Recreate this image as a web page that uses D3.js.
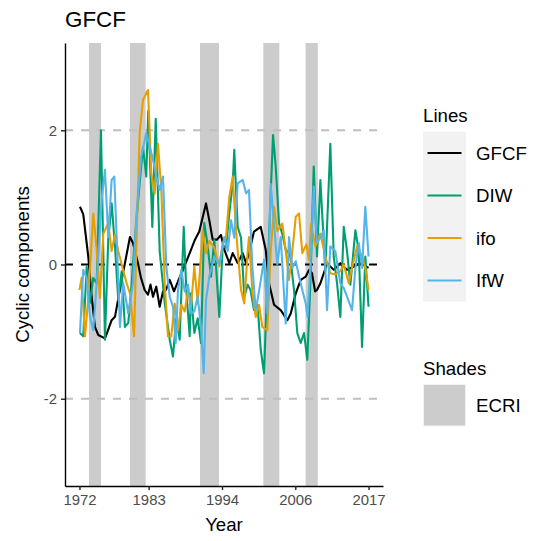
<!DOCTYPE html>
<html><head><meta charset="utf-8">
<script src="https://cdn.jsdelivr.net/npm/d3@7"></script>
<style>body{margin:0;background:#fff}svg{display:block;font-family:"Liberation Sans",Arial,Helvetica,sans-serif}</style>
</head><body><svg id="c" width="535" height="541"></svg>
<script>
const chartTitle = "GFCF";
const seriesNames = ["GFCF", "DIW", "ifo", "IfW"];
const seriesColors = ["#000000", "#009E73", "#E69F00", "#56B4E9"];

const gfcf = [[1972.08,0.86],[1972.59,0.75],[1973.37,0.12],[1973.87,-0.45],[1974.41,-0.93],[1974.93,-1.05],[1975.97,-1.1],[1976.44,-0.98],[1977.01,-0.83],[1977.53,-0.78],[1978.0,-0.53],[1978.57,-0.23],[1979.08,0.02],[1979.86,0.41],[1980.33,0.32],[1981.11,0.02],[1981.58,-0.2],[1982.15,-0.38],[1982.67,-0.45],[1983.06,-0.3],[1983.45,-0.48],[1983.96,-0.33],[1984.49,-0.63],[1985.0,-0.4],[1985.47,-0.38],[1986.05,-0.23],[1986.72,-0.4],[1987.34,-0.25],[1988.12,-0.08],[1989.16,0.17],[1989.98,0.37],[1990.65,0.49],[1991.7,0.91],[1992.21,0.66],[1992.74,0.37],[1993.41,0.37],[1994.03,0.44],[1994.55,0.22],[1995.33,0.02],[1995.86,0.17],[1996.63,0.02],[1997.41,0.17],[1997.93,0.02],[1998.39,0.17],[1999.17,0.49],[2000.22,0.56],[2000.99,0.22],[2001.51,-0.28],[2002.29,-0.6],[2003.33,-0.68],[2004.36,-0.83],[2004.89,-0.73],[2005.67,-0.43],[2006.44,-0.23],[2007.22,-0.18],[2007.74,-0.08],[2008.2,-0.13],[2008.68,-0.4],[2008.98,-0.38],[2009.5,-0.28],[2010.03,-0.13],[2010.54,0.02],[2011.58,-0.08],[2012.61,0.02],[2013.65,-0.08],[2014.7,-0.03],[2015.68,0.02],[2017.0,-0.05]];

const diw = [[1972.08,-1.02],[1972.59,-1.07],[1973.12,-0.03],[1973.63,-0.57],[1974.15,-0.2],[1974.68,-0.28],[1975.35,2.0],[1975.97,-1.12],[1976.48,0.37],[1977.01,0.91],[1977.53,0.27],[1978.04,-0.53],[1978.57,-0.1],[1979.08,-0.93],[1979.6,-0.87],[1980.13,-0.28],[1980.33,0.0],[1980.84,0.62],[1981.37,1.21],[1981.89,1.75],[1982.4,1.31],[1982.71,2.29],[1983.34,0.56],[1983.87,2.17],[1984.49,0.2],[1985.27,-0.57],[1986.05,-1.12],[1986.56,-1.37],[1987.07,-0.8],[1987.6,-1.12],[1988.23,0.56],[1988.63,-0.38],[1989.16,-1.07],[1989.36,-0.43],[1989.88,-1.02],[1990.41,-0.8],[1990.92,-1.17],[1991.43,0.62],[1991.93,0.3],[1992.48,-0.18],[1992.99,0.37],[1993.77,-0.78],[1994.3,0.27],[1994.81,0.25],[1995.33,0.77],[1995.86,1.21],[1996.1,1.71],[1996.63,0.56],[1997.15,0.4],[1997.66,-0.48],[1998.19,-0.3],[1998.63,-0.38],[1999.17,-0.68],[1999.72,-0.6],[2000.22,-1.27],[2000.73,-1.62],[2001.24,-0.28],[2001.77,1.06],[2002.13,1.93],[2002.55,1.46],[2003.06,0.62],[2003.58,0.45],[2004.11,0.22],[2004.78,0.15],[2005.4,-0.38],[2005.91,-1.02],[2006.44,-1.17],[2006.96,-1.02],[2007.47,-1.42],[2007.97,-0.2],[2008.47,1.46],[2008.98,0.12],[2009.5,1.26],[2010.27,-0.1],[2011.05,1.8],[2011.58,0.12],[2012.1,-0.28],[2012.61,-0.78],[2013.14,0.56],[2013.65,0.2],[2014.17,-0.3],[2014.95,0.51],[2015.48,0.2],[2015.99,-1.23],[2016.5,0.12],[2017.0,-0.63]];

const ifo = [[1972.0,-0.38],[1972.34,-0.2],[1972.86,-1.07],[1973.37,-0.5],[1974.15,0.76],[1974.68,0.22],[1975.19,-0.5],[1975.71,0.46],[1976.48,0.61],[1977.01,0.2],[1977.53,0.45],[1978.04,0.2],[1978.57,0.0],[1979.35,-0.28],[1979.86,-0.43],[1980.5,-1.07],[1980.84,0.2],[1981.37,1.96],[1981.89,2.45],[1982.67,2.6],[1983.18,1.36],[1983.71,1.06],[1984.22,1.8],[1984.74,1.11],[1985.27,-0.28],[1985.78,-1.07],[1986.29,-1.07],[1986.82,-0.58],[1987.34,-0.98],[1987.85,-0.6],[1988.38,-0.7],[1988.9,-0.38],[1989.36,-0.63],[1989.88,-0.03],[1990.41,-0.58],[1991.18,0.51],[1991.7,0.17],[1992.21,0.35],[1992.99,0.25],[1993.77,-0.03],[1994.3,0.32],[1994.81,0.4],[1995.33,1.01],[1995.86,1.31],[1996.37,0.51],[1997.15,-0.38],[1997.66,-0.58],[1998.19,0.2],[1998.39,0.41],[1998.91,-0.4],[1999.44,-0.78],[1999.95,-0.6],[2000.46,-0.93],[2001.24,-0.98],[2001.77,0.2],[2002.29,0.86],[2002.8,0.5],[2003.58,0.61],[2004.11,0.2],[2004.62,-0.23],[2005.14,0.2],[2005.67,0.71],[2006.18,0.76],[2006.69,0.17],[2007.32,0.3],[2007.74,0.07],[2008.05,0.61],[2008.72,0.27],[2009.5,0.46],[2010.27,0.12],[2011.05,-0.13],[2011.83,-0.15],[2012.61,-0.1],[2013.14,0.0],[2013.92,-0.28],[2014.43,-0.05],[2015.21,0.27],[2015.99,0.12],[2016.5,-0.05],[2017.0,-0.38]];

const ifw = [[1972.08,-1.02],[1972.59,-0.08],[1973.12,-0.2],[1973.63,-0.78],[1974.15,-0.98],[1974.68,-0.28],[1975.46,0.96],[1975.97,1.41],[1976.48,0.41],[1977.01,1.26],[1977.42,1.31],[1977.79,0.41],[1978.31,-0.93],[1978.82,-0.28],[1979.6,-0.73],[1980.33,-0.28],[1980.84,0.71],[1981.62,1.61],[1982.4,1.96],[1982.93,1.76],[1983.45,1.56],[1983.96,1.31],[1984.49,1.11],[1985.0,1.31],[1985.52,-0.03],[1986.05,-0.48],[1986.56,-0.63],[1986.98,-1.17],[1987.34,-0.38],[1987.85,-0.08],[1988.38,-0.4],[1988.9,-0.3],[1989.41,-0.73],[1989.88,-0.7],[1990.41,-0.48],[1990.92,-0.93],[1991.34,-1.62],[1991.7,-0.53],[1992.21,-0.18],[1992.99,0.12],[1993.77,0.0],[1994.55,0.41],[1995.08,0.2],[1995.59,0.66],[1996.1,0.4],[1996.63,1.21],[1997.41,1.26],[1997.93,1.06],[1998.39,1.11],[1998.91,-0.03],[1999.44,-0.68],[1999.95,-0.4],[2000.73,0.07],[2001.24,-0.73],[2001.77,1.2],[2002.29,0.6],[2002.8,0.0],[2003.33,0.41],[2004.11,-0.88],[2004.62,0.41],[2005.14,-0.05],[2005.67,0.05],[2006.18,-0.18],[2006.69,-0.38],[2007.22,-0.58],[2007.5,-0.78],[2007.94,-0.03],[2008.47,1.16],[2008.98,0.32],[2009.5,0.4],[2010.03,0.51],[2010.54,-0.68],[2011.05,0.27],[2011.83,0.2],[2012.61,-0.28],[2013.14,-0.35],[2013.65,-0.48],[2014.43,-0.68],[2014.95,-0.05],[2015.48,0.32],[2015.99,-0.05],[2016.5,0.86],[2017.0,0.12]];

const seriesValues = [gfcf, diw, ifo, ifw];

const recessionStarts = [1973.48, 1979.86, 1990.76, 2000.62, 2007.2];
const recessionEnds   = [1975.35, 1982.31, 1993.72, 2003.11, 2009.1];
const shadeLabel = "ECRI";

const xTickValues = [1972, 1982.77, 1994.19, 2005.6, 2017];
const xTickLabels = ["1972", "1983", "1994", "2006", "2017"];
const yTickValues = [-2, 0, 2];
const refLines = [2, -2];

const xLabel = "Year", yLabel = "Cyclic components";
const legendTitle = "Lines", shadeTitle = "Shades";

// ---- drawing ----
const svg = d3.select("#c");
const P = {l: 65, r: 383, t: 43, b: 486};
const xMin = 1972, xMax = 2017, xPad = (xMax - xMin) * 0.05;
const x = d3.scaleLinear().domain([xMin - xPad, xMax + xPad]).range([P.l, P.r]);
const y = d3.scaleLinear().domain([-3.3, 3.3]).range([P.b, P.t]);

svg.append("g").selectAll("rect").data(recessionStarts).join("rect")
  .attr("x", d => x(d)).attr("y", P.t)
  .attr("width", (d, i) => x(recessionEnds[i]) - x(d)).attr("height", P.b - P.t)
  .attr("fill", "#CCCCCC");

svg.append("g").selectAll("line").data(refLines).join("line")
  .attr("x1", P.l).attr("x2", P.r).attr("y1", d => y(d)).attr("y2", d => y(d))
  .attr("stroke", "#BEBEBE").attr("stroke-width", 2).attr("stroke-dasharray", "8,8");
svg.append("line").attr("x1", P.l).attr("x2", P.r).attr("y1", y(0)).attr("y2", y(0))
  .attr("stroke", "#000").attr("stroke-width", 2).attr("stroke-dasharray", "8,8");

const line = d3.line().x(d => x(d[0])).y(d => y(d[1]));
svg.append("g").selectAll("path").data(seriesValues).join("path")
  .attr("d", line).attr("fill", "none")
  .attr("stroke", (d, i) => seriesColors[i]).attr("stroke-width", 2.1)
  .attr("stroke-linejoin", "round");

// axes
const xAxis = svg.append("g").attr("transform", `translate(0,${P.b})`)
  .call(d3.axisBottom(x).tickValues(xTickValues).tickFormat((d, i) => xTickLabels[i]).tickSize(4).tickSizeOuter(0).tickPadding(4));
const yAxis = svg.append("g").attr("transform", `translate(${P.l},0)`)
  .call(d3.axisLeft(y).tickValues(yTickValues).tickFormat(d => String(d)).tickSize(4).tickSizeOuter(0).tickPadding(4));
[xAxis, yAxis].forEach(g => {
  g.select(".domain").attr("stroke", "#000").attr("stroke-width", 1.4);
  g.selectAll(".tick line").attr("stroke", "#222").attr("stroke-width", 1.4);
  g.selectAll(".tick text").attr("fill", "#4D4D4D").attr("font-size", 14.9)
    .attr("font-family", "Liberation Sans, Arial, sans-serif");
});

svg.append("text").attr("x", P.l).attr("y", 27).attr("font-size", 22.4).text(chartTitle);
svg.append("text").attr("x", (P.l + P.r) / 2).attr("y", 531).attr("text-anchor", "middle")
  .attr("font-size", 18.67).text(xLabel);
svg.append("text").attr("transform", `translate(28.5,${(P.t + P.b) / 2}) rotate(-90)`)
  .attr("text-anchor", "middle").attr("font-size", 18.67).text(yLabel);

// legend
const L = {x: 423, keyW: 43, keyH: 42.5, top: 131.7};
svg.append("text").attr("x", L.x).attr("y", 121.5).attr("font-size", 18.67).text(legendTitle);
svg.append("rect").attr("x", L.x).attr("y", L.top).attr("width", L.keyW)
  .attr("height", L.keyH * seriesNames.length).attr("fill", "#F2F2F2");
seriesNames.forEach((n, i) => {
  const cy = L.top + L.keyH * (i + 0.5);
  svg.append("line").attr("x1", L.x + 4.5).attr("x2", L.x + 38.5).attr("y1", cy).attr("y2", cy)
    .attr("stroke", seriesColors[i]).attr("stroke-width", 2.1);
  svg.append("text").attr("x", 476).attr("y", cy + 6.7).attr("font-size", 18.67).text(n);
});
svg.append("text").attr("x", L.x).attr("y", 375).attr("font-size", 18.67).text(shadeTitle);
svg.append("rect").attr("x", L.x).attr("y", 384).attr("width", L.keyW).attr("height", L.keyH).attr("fill", "#F2F2F2");
svg.append("rect").attr("x", L.x + 1).attr("y", 385).attr("width", L.keyW - 2).attr("height", L.keyH - 2).attr("fill", "#CCCCCC");
svg.append("text").attr("x", 476).attr("y", 384 + L.keyH / 2 + 6.7).attr("font-size", 18.67).text(shadeLabel);
</script></body></html>
